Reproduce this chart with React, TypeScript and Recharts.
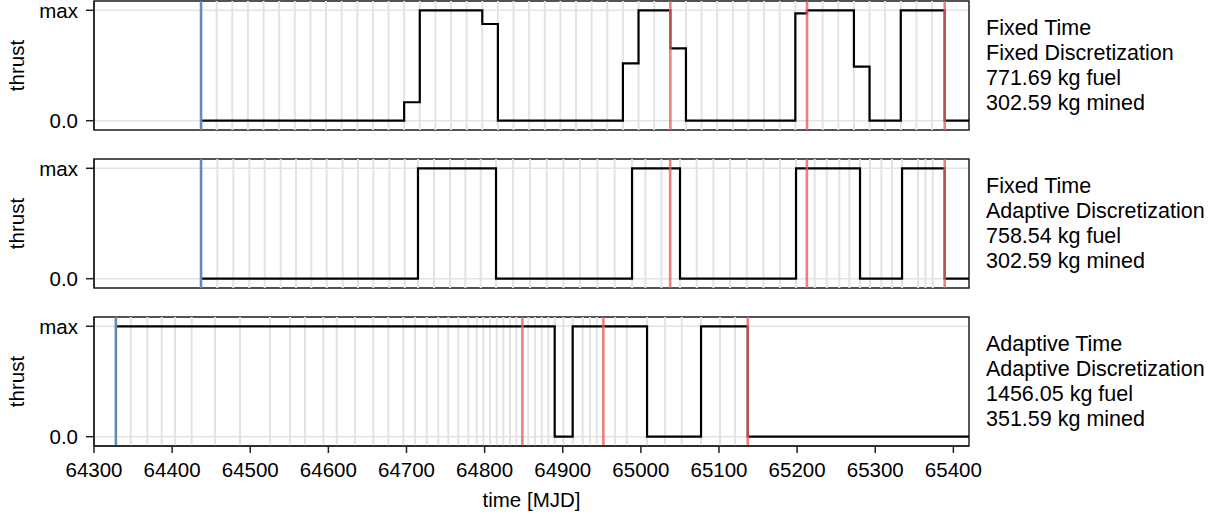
import React from 'react';
import {
  LineChart,
  Line,
  XAxis,
  YAxis,
  CartesianGrid,
  ReferenceLine,
  ReferenceArea,
} from 'recharts';

// ---------- axes ----------
const X_DOMAIN: [number, number] = [64300, 65420];
const Y_DOMAIN: [number, number] = [-0.0842, 1.0842];
const X_TICKS = [64300, 64400, 64500, 64600, 64700, 64800, 64900, 65000, 65100, 65200, 65300, 65400];
const Y_TICKS = [0, 1];
const Y_TICK_LABELS: Record<number, string> = { 0: '0.0', 1: 'max' };

// ---------- panel 1: Fixed Time / Fixed Discretization ----------
const p1Times = [64437, 64697, 64717, 64797, 64817, 64977, 64997, 65037.7, 65057.7, 65197.7, 65212.7, 65272.7, 65292.7, 65332.7, 65388.9, 65420];
const p1Thrust = [0, 0.167, 1, 0.876, 0, 0.52, 1, 0.656, 0, 0.973, 1, 0.49, 0, 1, 0, 0];
const p1Nodes = [
  64457, 64477, 64497, 64517, 64537, 64557, 64577, 64597, 64617, 64637, 64657, 64677, 64697, 64717, 64737,
  64757, 64777, 64797, 64817, 64837, 64857, 64877, 64897, 64917, 64937, 64957, 64977, 64997, 65017,
  65057.7, 65077.7, 65097.7, 65117.7, 65137.7, 65157.7, 65177.7, 65197.7,
  65232.7, 65252.7, 65272.7, 65292.7, 65312.7, 65332.7, 65352.7, 65372.7,
];
const p1Start = 64437;
const p1Events = [65037.7, 65212.7, 65388.9];
const p1Text = ['Fixed Time', 'Fixed Discretization', '771.69 kg fuel', '302.59 kg mined'];

// ---------- panel 2: Fixed Time / Adaptive Discretization ----------
const p2Times = [64437, 64714.7, 64814.6, 64988.7, 65050.1, 65198.6, 65280.5, 65334.3, 65388.9, 65420];
const p2Thrust = [0, 1, 0, 1, 0, 1, 0, 1, 0, 0];
const p2Nodes = [
  64457.8, 64478.3, 64498.8, 64518.5, 64539, 64558.6, 64578.2, 64597.9, 64618.4, 64637.9, 64657.5, 64678,
  64697.7, 64714.7, 64735.2, 64755.7, 64775.3, 64795, 64814.6, 64836.4, 64858.1, 64879.5, 64900.8, 64922.1,
  64944.3, 64966.5, 64988.7, 65005.7, 65026.2, 65050.1, 65071.5, 65092.8, 65114.1, 65135.5, 65156.8,
  65178.1, 65198.6, 65222.5, 65237.9, 65254, 65266.9, 65280.5, 65293.3, 65307.8, 65321.5, 65334.3,
  65354.8, 65364.2, 65373.6,
];
const p2Start = 64437;
const p2Events = [65037.5, 65212.5, 65388.9];
const p2Text = ['Fixed Time', 'Adaptive Discretization', '758.54 kg fuel', '302.59 kg mined'];

// ---------- panel 3: Adaptive Time / Adaptive Discretization ----------
const p3Times = [64328, 64889.7, 64912.7, 65007.9, 65077, 65136.8, 65420];
const p3Thrust = [1, 0, 1, 0, 1, 0, 0];
const p3Nodes = [
  64347, 64368.3, 64386.6, 64403.7, 64425, 64454.9, 64486.9, 64525.3, 64550.9, 64570.1, 64593.5, 64610.7,
  64634.1, 64657.5, 64676.7, 64695.9, 64710.9, 64725.9, 64740.7, 64753.5, 64766.3, 64779.1, 64789.9,
  64798.3, 64806.9, 64815.5, 64824, 64832.5, 64840.6, 64855.9, 64864.5, 64873.1, 64881.6, 64889.7,
  64900.8, 64912.7, 64925.6, 64934.9, 64943.5, 64967, 64981.9, 65007.9, 65031, 65052.3, 65077, 65101.3,
  65120.5,
];
const p3Start = 64328;
const p3Events = [64848.3, 64952, 65136.8];
const p3Text = ['Adaptive Time', 'Adaptive Discretization', '1456.05 kg fuel', '351.59 kg mined'];

// ---------- style ----------
const FONT = "'Liberation Sans', Arial, Helvetica, sans-serif";
const FS = 20.5;
const W = 1223;
const PLOT_LEFT = 94;
const PLOT_RIGHT = 969;
const PLOT_H = 129;
const FRAME = '#222222';
const GRID = '#e3e3e3';
const BLUE = '#6489bb';
const RED = '#e8605f';

type PanelProps = {
  times: number[];
  thrust: number[];
  nodes: number[];
  start: number;
  events: number[];
  text: string[];
  plotTop: number;
  showX: boolean;
};

function Panel({ times, thrust, nodes, start, events, text, plotTop, showX }: PanelProps) {
  const data = times.map((t, i) => ({ t, v: thrust[i] }));
  const mTop = 2;
  const xAxisH = 74;
  const height = showX ? mTop + PLOT_H + xAxisH : mTop + PLOT_H + 3;
  const lineH = 25;
  const textTop = plotTop + PLOT_H / 2 - (lineH * text.length) / 2;
  return (
    <>
      <div style={{ position: 'absolute', left: 0, top: plotTop - mTop }}>
        <LineChart
          width={W}
          height={height}
          data={data}
          margin={{ top: mTop, right: W - PLOT_RIGHT, left: 0, bottom: showX ? 0 : 3 }}
          style={{ fontFamily: FONT }}
        >
          <CartesianGrid vertical={false} stroke={GRID} strokeWidth={1.5} />
          <XAxis
            dataKey="t"
            type="number"
            domain={X_DOMAIN}
            ticks={X_TICKS}
            allowDataOverflow
            hide={!showX}
            height={xAxisH}
            tickSize={7}
            tickMargin={9}
            axisLine={{ stroke: FRAME, strokeWidth: 1.5 }}
            tickLine={{ stroke: FRAME, strokeWidth: 1.5 }}
            tick={{ fill: '#000', fontSize: FS, fontFamily: FONT }}
            interval={0}
            label={{ value: 'time [MJD]', position: 'insideBottom', offset: 13, fill: '#000', fontSize: FS, fontFamily: FONT }}
          />
          <YAxis
            type="number"
            domain={Y_DOMAIN}
            ticks={Y_TICKS}
            allowDataOverflow
            width={PLOT_LEFT}
            tickSize={8}
            tickMargin={8}
            tickFormatter={(v: number) => Y_TICK_LABELS[v] ?? ''}
            axisLine={{ stroke: FRAME, strokeWidth: 1.5 }}
            tickLine={{ stroke: FRAME, strokeWidth: 1.5 }}
            tick={{ fill: '#000', fontSize: FS, fontFamily: FONT }}
            interval={0}
            label={{
              value: 'thrust',
              angle: -90,
              position: 'insideLeft',
              offset: 17,
              fill: '#000',
              fontSize: FS,
              fontFamily: FONT,
              style: { textAnchor: 'middle' },
            }}
          />
          {nodes.map((n) => (
            <ReferenceLine key={'g' + n} x={n} stroke={GRID} strokeWidth={2} ifOverflow="visible" />
          ))}
          <Line
            type="stepAfter"
            dataKey="v"
            stroke="#000"
            strokeWidth={2.2}
            dot={false}
            isAnimationActive={false}
          />
          <ReferenceLine x={start} stroke={BLUE} strokeWidth={2.6} ifOverflow="visible" />
          {events.map((e) => (
            <ReferenceLine key={'r' + e} x={e} stroke={RED} strokeOpacity={0.8} strokeWidth={2.6} ifOverflow="visible" />
          ))}
          <ReferenceArea
            x1={X_DOMAIN[0]}
            x2={X_DOMAIN[1]}
            y1={Y_DOMAIN[0]}
            y2={Y_DOMAIN[1]}
            fill="none"
            fillOpacity={0}
            stroke={FRAME}
            strokeWidth={1.5}
            ifOverflow="visible"
          />
        </LineChart>
      </div>
      <div
        style={{
          position: 'absolute',
          left: 986,
          top: textTop,
          fontFamily: FONT,
          fontSize: 21.5,
          lineHeight: lineH + 'px',
          color: '#000',
          whiteSpace: 'nowrap',
        }}
      >
        {text.map((s) => (
          <div key={s}>{s}</div>
        ))}
      </div>
    </>
  );
}

export default function App() {
  return (
    <div style={{ position: 'absolute', left: 0, top: 0, width: W, height: 520, background: '#fff' }}>
      <Panel times={p1Times} thrust={p1Thrust} nodes={p1Nodes} start={p1Start} events={p1Events} text={p1Text} plotTop={1} showX={false} />
      <Panel times={p2Times} thrust={p2Thrust} nodes={p2Nodes} start={p2Start} events={p2Events} text={p2Text} plotTop={159} showX={false} />
      <Panel times={p3Times} thrust={p3Thrust} nodes={p3Nodes} start={p3Start} events={p3Events} text={p3Text} plotTop={317} showX={true} />
    </div>
  );
}
